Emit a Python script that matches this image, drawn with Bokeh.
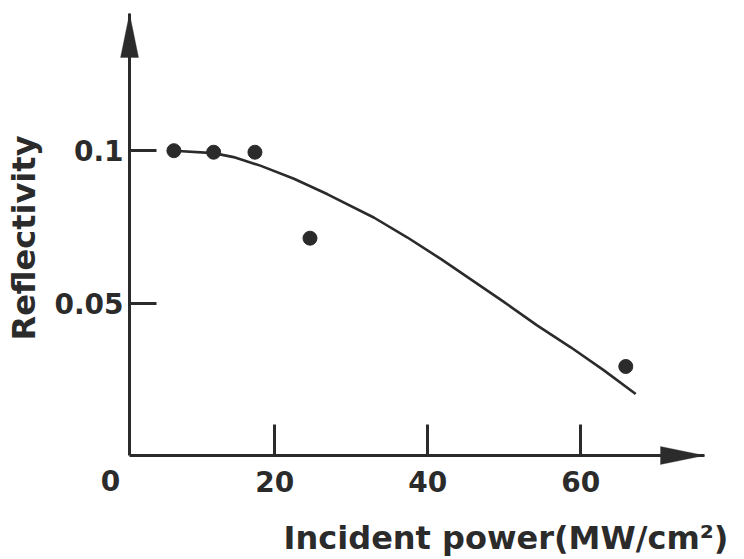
import math
from bokeh.plotting import figure
from bokeh.models import Range1d, FixedTicker, Label, PolyAnnotation, LinearAxis
from bokeh.embed import file_html
from bokeh.resources import INLINE

# ---- data ----
point_x = [6.8, 12.0, 17.4, 24.6, 65.9]
point_y = [0.100, 0.0995, 0.0995, 0.0713, 0.0292]

curve_x = [6.8, 12.0, 14.6, 18.1, 22.5, 26.9, 33.0, 37.3, 41.7, 50.0, 54.3, 58.7, 63.0, 67.2]
curve_y = [0.1000, 0.0992, 0.0979, 0.0951, 0.0908, 0.0857, 0.0780, 0.0716, 0.0645, 0.0503, 0.0427, 0.0355, 0.0280, 0.0202]

x_ticks = [20, 40, 60]
x_tick_labels = ["20", "40", "60"]
y_ticks = [0.05, 0.1]
y_tick_labels = ["0.05", "0.1"]
origin_label = "0"
x_title = "Incident power(MW/cm\u00b2)"
y_title = "Reflectivity"

# ---- layout (the whole canvas is the plot frame) ----
INK = "#2b2b2b"
FONT = "DejaVu Sans"
W, H = 744, 559
OX, OY = 121.4, 455.0          # pixel position of the data origin
PX_X, PX_Y = 7.646, 3048.0     # pixels per data unit
Y_AXIS_AT = 1.0                # x where the vertical axis is drawn
X_AXIS_END = (704 - OX) / PX_X
Y_AXIS_END = (OY - 13) / PX_Y

x_lo, x_hi = -OX / PX_X, (W - OX) / PX_X
y_lo, y_hi = (OY - H) / PX_Y, OY / PX_Y

def dx(px):
    return px / PX_X

def dy(px):
    return px / PX_Y

p = figure(width=W, height=H, output_backend="svg", toolbar_location=None,
           x_range=Range1d(x_lo, x_hi), y_range=Range1d(y_lo, y_hi),
           x_axis_type=None, y_axis_type=None, min_border=0)
p.outline_line_color = None
p.background_fill_color = "white"
p.border_fill_color = "white"

xaxis = LinearAxis(fixed_location=0.0, bounds=(Y_AXIS_AT, X_AXIS_END),
                   ticker=FixedTicker(ticks=x_ticks),
                   major_label_overrides={t: l for t, l in zip(x_ticks, x_tick_labels)},
                   major_tick_in=31, major_tick_out=0, major_label_standoff=15)
yaxis = LinearAxis(fixed_location=Y_AXIS_AT, bounds=(0.0, Y_AXIS_END),
                   ticker=FixedTicker(ticks=y_ticks),
                   major_label_overrides={t: l for t, l in zip(y_ticks, y_tick_labels)},
                   major_tick_in=27, major_tick_out=0, major_label_standoff=6)
for ax in (xaxis, yaxis):
    ax.axis_line_color = INK
    ax.axis_line_width = 3
    ax.major_tick_line_color = INK
    ax.major_tick_line_width = 3
    ax.minor_tick_line_color = None
    ax.major_label_text_font = FONT
    ax.major_label_text_font_style = "bold"
    ax.major_label_text_font_size = "28px"
    ax.major_label_text_color = INK
p.add_layout(xaxis, "below")
p.add_layout(yaxis, "left")

# arrow heads on the axes
HEAD_L, HEAD_HW = 44, 9
p.add_layout(PolyAnnotation(
    xs=[Y_AXIS_AT - dx(HEAD_HW), Y_AXIS_AT, Y_AXIS_AT + dx(HEAD_HW)],
    ys=[Y_AXIS_END - dy(HEAD_L), Y_AXIS_END, Y_AXIS_END - dy(HEAD_L)],
    fill_color=INK, fill_alpha=1.0, line_color=INK, line_width=1))
p.add_layout(PolyAnnotation(
    xs=[X_AXIS_END - dx(HEAD_L), X_AXIS_END, X_AXIS_END - dx(HEAD_L)],
    ys=[dy(HEAD_HW), 0.0, -dy(HEAD_HW)],
    fill_color=INK, fill_alpha=1.0, line_color=INK, line_width=1))

# curve and points
p.line(curve_x, curve_y, line_color=INK, line_width=2.6, line_join="round")
p.scatter(point_x, point_y, size=14, fill_color=INK, line_color=INK)

# texts
text_style = dict(text_font=FONT, text_font_style="bold", text_color=INK)
p.add_layout(Label(x=dx(110 - OX), y=dy(OY - 469), text=origin_label,
                   text_align="center", text_baseline="top",
                   text_font_size="28px", **text_style))
p.add_layout(Label(x=dx(505.5 - OX), y=dy(OY - 518), text=x_title,
                   text_align="center", text_baseline="top",
                   text_font_size="32px", **text_style))
p.add_layout(Label(x=dx(23 - OX), y=dy(OY - 237.5), text=y_title,
                   angle=math.pi / 2, text_align="center", text_baseline="middle",
                   text_font_size="32px", **text_style))

open("out.html", "w").write(file_html(p, INLINE))
